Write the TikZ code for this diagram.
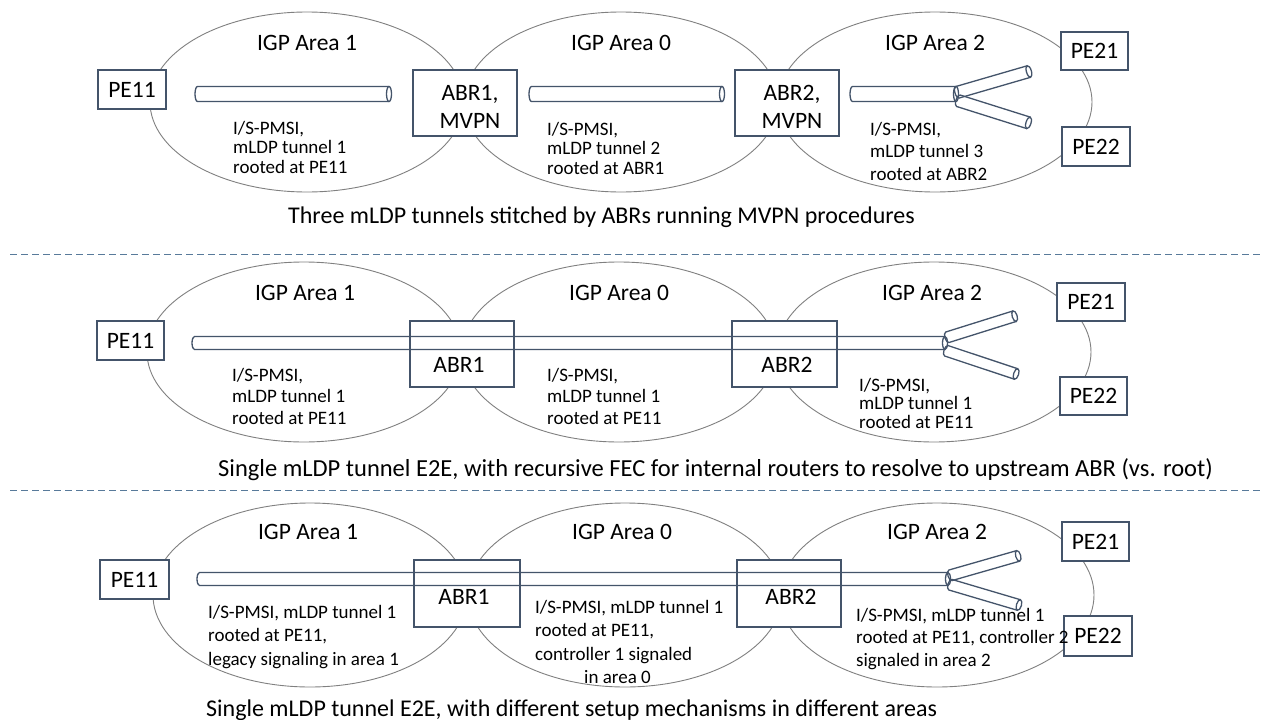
\documentclass[tikz,border=0pt]{standalone}
\usepackage{fontspec}
\setmainfont{Carlito}
\definecolor{areagray}{HTML}{808080}
\definecolor{boxblue}{HTML}{44546A}
\definecolor{dashblue}{HTML}{587A9A}
\newcommand\tubeshape[2]{%
  \draw[tubeline] (#1pt,#2pt) -- (2.5pt,#2pt) arc[start angle=90, delta angle=180, x radius=2.5pt, y radius=#2pt] -- (#1pt,-#2pt);
  \draw[tubeline] (#1pt,0pt) ellipse[x radius=2.5pt, y radius=#2pt];}
\begin{document}
\begin{tikzpicture}[x=1pt,y=-1pt,
  area/.style={draw=areagray, line width=0.9pt},
  rbox/.style={draw=boxblue, line width=1.2pt, fill=white, inner sep=0pt, font=\fontsize{23.5}{28}\selectfont, align=center},
  tubeline/.style={draw=boxblue, line width=1.3pt},
  sep/.style={draw=dashblue, line width=0.8pt, dash pattern=on 7pt off 4pt},
  title/.style={font=\fontsize{23.5}{28}\selectfont, inner sep=0pt},
  caption/.style={font=\fontsize{#1}{28}\selectfont, inner sep=0pt, anchor=west},
  body/.style={font=\fontsize{19}{#1}\selectfont, align=left, anchor=west, inner sep=0pt}]
\useasboundingbox (0,0) rectangle (1272,720);
\fill[white] (0,0) rectangle (1272,720);

% ---------- Row 1 ----------
\draw[area] (307,102) ellipse[x radius=157pt, y radius=90pt];
\draw[area] (621,102) ellipse[x radius=157pt, y radius=90pt];
\draw[area] (935,102) ellipse[x radius=157pt, y radius=90pt];
\node[title] (t1a1) at (307,43) {IGP Area 1};
\node[title] (t1a0) at (621,43) {IGP Area 0};
\node[title] (t1a2) at (935,43) {IGP Area 2};
\node[rbox, minimum width=68pt, minimum height=39pt] (r1pe11) at (132,89.5) {PE11};
\node[rbox, minimum width=104pt, minimum height=66pt] (r1abr1) at (465,103) {};
\node[rbox, minimum width=104pt, minimum height=66pt] (r1abr2) at (787,103) {};
\node[rbox, minimum width=67pt, minimum height=38pt] (r1pe21) at (1094.5,51) {PE21};
\node[rbox, minimum width=68pt, minimum height=39pt] (r1pe22) at (1096,146.5) {PE22};
\node[title, align=center, font=\fontsize{23.5}{28}\selectfont] (r1abr1t) at (470,107) {ABR1,\\MVPN};
\node[title, align=center, font=\fontsize{23.5}{28}\selectfont] (r1abr2t) at (792,107) {ABR2,\\MVPN};
\begin{scope}[shift={(195,94)}]\tubeshape{194}{7.5}\end{scope}
\begin{scope}[shift={(529,94)}]\tubeshape{193}{7.5}\end{scope}
\begin{scope}[shift={(850,94)}]\tubeshape{106}{7.5}\end{scope}
\begin{scope}[shift={(955,93)}, rotate=16.2]\tubeshape{77}{6}\end{scope}
\begin{scope}[shift={(956,100)}, rotate=-17.5]\tubeshape{76}{6}\end{scope}
\node[body=19.5] (r1x1) at (233,147) {I/S-PMSI,\\mLDP tunnel 1\\rooted at PE11};
\node[body=19.5] (r1x0) at (547,148) {I/S-PMSI,\\mLDP tunnel 2\\rooted at ABR1};
\node[body=22.5] (r1x2) at (870,151) {I/S-PMSI,\\mLDP tunnel 3\\rooted at ABR2};
\node[caption=24] (cap1) at (288,217) {Three mLDP tunnels stitched by ABRs running MVPN procedures};

\coordinate (s1l) at (10,254); \coordinate (s1r) at (1260,254);
\draw[sep] (s1l) -- (s1r);

% ---------- Row 2 ----------
\draw[area] (304,352) ellipse[x radius=157pt, y radius=90pt];
\draw[area] (619,352) ellipse[x radius=157pt, y radius=90pt];
\draw[area] (934,352) ellipse[x radius=157pt, y radius=90pt];
\node[title] (t2a1) at (305,293) {IGP Area 1};
\node[title] (t2a0) at (619,293) {IGP Area 0};
\node[title] (t2a2) at (932,293) {IGP Area 2};
\node[rbox, minimum width=67pt, minimum height=39pt] (r2pe11) at (130.5,340.5) {PE11};
\node[rbox, minimum width=104pt, minimum height=66pt] (r2abr1) at (462,354) {};
\node[rbox, minimum width=105pt, minimum height=66pt] (r2abr2) at (784.5,354) {};
\node[rbox, minimum width=68pt, minimum height=38pt] (r2pe21) at (1091,302) {PE21};
\node[rbox, minimum width=67pt, minimum height=38pt] (r2pe22) at (1093.5,396) {PE22};
\node[title] (r2abr1t) at (459,365) {ABR1};
\node[title] (r2abr2t) at (787,365) {ABR2};
\begin{scope}[shift={(192,343)}]\tubeshape{753}{6.5}\end{scope}
\begin{scope}[shift={(945,338)}, rotate=17.4]\tubeshape{73}{5.5}\end{scope}
\begin{scope}[shift={(944,350)}, rotate=-18.4]\tubeshape{76}{5.5}\end{scope}
\node[body=21.5] (r2x1) at (232,396) {I/S-PMSI,\\mLDP tunnel 1\\rooted at PE11};
\node[body=21.5] (r2x0) at (547,396) {I/S-PMSI,\\mLDP tunnel 1\\rooted at PE11};
\node[body=18.5] (r2x2) at (859,403) {I/S-PMSI,\\mLDP tunnel 1\\rooted at PE11};
\node[caption=24.5] (cap2) at (218,470) {Single mLDP tunnel E2E, with recursive FEC for internal routers to resolve to upstream ABR (vs. root)};

\coordinate (s2l) at (10,490); \coordinate (s2r) at (1260,490);
\draw[sep] (s2l) -- (s2r);

% ---------- Row 3 ----------
\draw[area] (310,595) ellipse[x radius=157pt, y radius=92pt];
\draw[area] (625,595) ellipse[x radius=157pt, y radius=92pt];
\draw[area] (937,595) ellipse[x radius=157pt, y radius=92pt];
\node[title] (t3a1) at (308,532) {IGP Area 1};
\node[title] (t3a0) at (622,532) {IGP Area 0};
\node[title] (t3a2) at (937,532) {IGP Area 2};
\node[rbox, minimum width=69pt, minimum height=39pt] (r3pe11) at (134.5,579.5) {PE11};
\node[rbox, minimum width=106pt, minimum height=67pt] (r3abr1) at (467,593.5) {};
\node[rbox, minimum width=104pt, minimum height=67pt] (r3abr2) at (789,593.5) {};
\node[rbox, minimum width=67pt, minimum height=39pt] (r3pe21) at (1095.5,541.5) {PE21};
\node[rbox, minimum width=68pt, minimum height=40pt] (r3pe22) at (1098,636) {PE22};
\node[title] (r3abr1t) at (464,597) {ABR1};
\node[title] (r3abr2t) at (791,597) {ABR2};
\begin{scope}[shift={(197,579)}]\tubeshape{751}{6.5}\end{scope}
\begin{scope}[shift={(948,576)}, rotate=16]\tubeshape{73}{5.5}\end{scope}
\begin{scope}[shift={(948,584)}, rotate=-16.5]\tubeshape{74}{5.5}\end{scope}
\node[body=23.5] (r3x1) at (208,637) {I/S-PMSI, mLDP tunnel 1\\rooted at PE11,\\legacy signaling in area 1};
\node[body=23.5] (r3x0) at (535,642) {I/S-PMSI, mLDP tunnel 1\\rooted at PE11,\\controller 1 signaled\\\hspace*{49pt}in area 0};
\node[body=22.5] (r3x2) at (856,639) {I/S-PMSI, mLDP tunnel 1\\rooted at PE11, controller 2\\signaled in area 2};
\node[caption=24] (cap3) at (206,710) {Single mLDP tunnel E2E, with different setup mechanisms in different areas};
\end{tikzpicture}
\end{document}
